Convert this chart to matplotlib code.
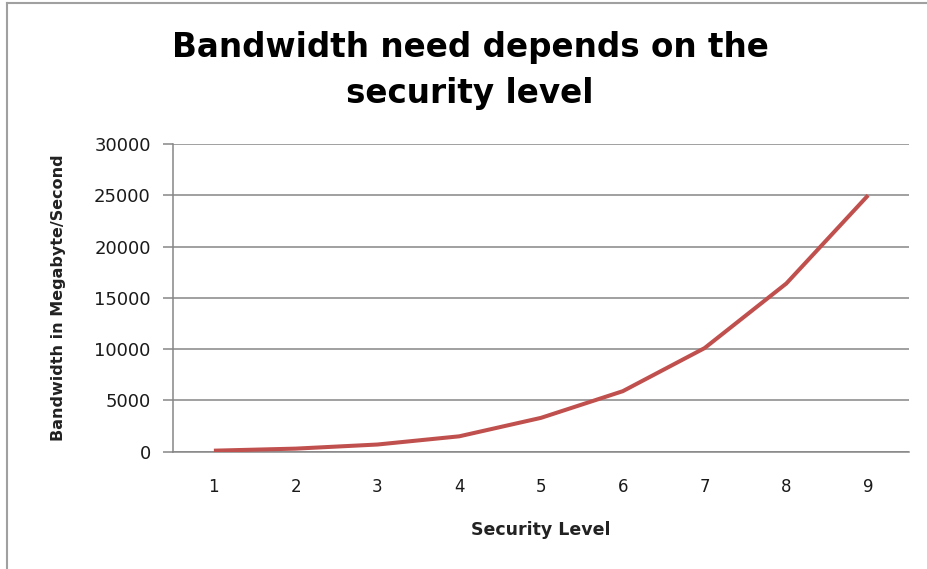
import matplotlib
matplotlib.use("Agg")
import matplotlib.pyplot as plt
from matplotlib.lines import Line2D

# values
security_level = [1, 2, 3, 4, 5, 6, 7, 8, 9]
bandwidth = [100, 300, 700, 1500, 3300, 5900, 10100, 16400, 25000]
y_ticks = [0, 5000, 10000, 15000, 20000, 25000, 30000]

LINE_RED = '#C0504D'
GRID_GREY = '#868686'

fig = plt.figure(figsize=(9.28, 5.69), dpi=100)
ax = fig.add_axes([173 / 928, 1 - 451.7 / 569, (909 - 173) / 928, (451.7 - 144) / 569])

ax.plot(security_level, bandwidth, color=LINE_RED, linewidth=2.9,
        solid_capstyle='butt', solid_joinstyle='round', zorder=3)

ax.set_xlim(0.5, 9.5)
ax.set_ylim(0, 30000)
ax.set_xticks(security_level)
ax.set_xticklabels([str(s) for s in security_level])
ax.set_yticks(y_ticks)
ax.set_yticklabels([str(t) for t in y_ticks])

ax.grid(axis='y', color=GRID_GREY, linewidth=1.1)
ax.set_axisbelow(True)
for side in ['top', 'right']:
    ax.spines[side].set_visible(False)
ax.spines['left'].set_color(GRID_GREY)
ax.spines['left'].set_linewidth(1.1)
ax.spines['bottom'].set_color(GRID_GREY)
ax.spines['bottom'].set_linewidth(1.1)

ax.tick_params(axis='y', length=7, width=1.1, color=GRID_GREY, pad=9,
               labelsize=13, labelcolor='#1a1a1a')
ax.tick_params(axis='x', length=0, pad=19, labelsize=12, labelcolor='#1a1a1a')

ax.set_xlabel('Security Level', fontsize=12.5, fontweight='bold',
              color='#222222', labelpad=18)
ax.set_ylabel('Bandwidth in Megabyte/Second', fontsize=11.5, fontweight='bold',
              color='#222222', labelpad=20)

# two-line title, each line placed on its own baseline
fig.text(470 / 928, 1 - 57 / 569, 'Bandwidth need depends on the',
         ha='center', va='baseline', fontsize=23.5, fontweight='bold',
         color='black')
fig.text(470 / 928, 1 - 103 / 569, 'security level',
         ha='center', va='baseline', fontsize=23.5, fontweight='bold',
         color='black')

# chart-area border (only top and left edges fall inside the image)
fig.add_artist(Line2D([7 / 928, 7 / 928], [0, 1 - 3 / 569], color='#A0A0A0',
                      linewidth=1.5, transform=fig.transFigure))
fig.add_artist(Line2D([7 / 928, 1], [1 - 3 / 569, 1 - 3 / 569], color='#A0A0A0',
                      linewidth=1.5, transform=fig.transFigure))

fig.savefig('out.png', dpi=100)
